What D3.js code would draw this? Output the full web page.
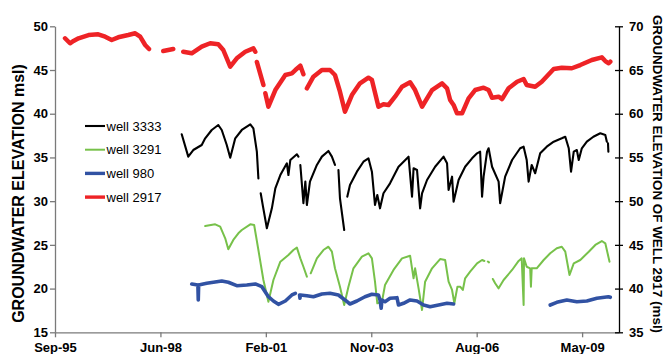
<!DOCTYPE html>
<html><head><meta charset="utf-8">
<script src="https://cdn.jsdelivr.net/npm/d3@7"></script>
<style>body{margin:0;background:#fff}svg{display:block}text{font-family:"Liberation Sans",Arial,sans-serif}</style>
</head><body><svg id="c" width="665" height="354"></svg>
<script>
const xTickLabels = ["Sep-95","Jun-98","Feb-01","Nov-03","Aug-06","May-09"];
const leftTicks = [15,20,25,30,35,40,45,50];
const rightTicks = [35,40,45,50,55,60,65,70];
const legendLabels = ["well 3333","well 3291","well 980","well 2917"];

// [decimal year, elevation msl]; null = gap in record
const well3333 = [
[1998.97,37.65],[1999.14,35.09],[1999.27,35.85],[1999.49,36.42],[1999.58,37.19],[1999.75,38.14],[1999.92,38.71],[2000.01,38.14],[2000.14,36.42],[2000.23,34.97],[2000.36,37.19],[2000.53,38.14],[2000.75,38.79],[2000.83,38.33],[2000.92,35.66],[2000.96,32.61],null,
[2001.02,30.90],[2001.08,29.37],[2001.18,26.90],[2001.31,29.18],[2001.40,31.47],[2001.53,32.99],[2001.70,34.33],[2001.74,32.99],[2001.79,34.71],[2001.96,35.36],[2002.00,35.09],null,
[2002.05,34.14],[2002.13,29.76],[2002.18,32.23],[2002.22,29.56],[2002.30,32.23],[2002.48,34.14],[2002.61,35.09],[2002.78,35.74],[2002.87,35.09],[2002.95,34.14],null,
[2003.04,33.56],[2003.08,30.33],[2003.19,26.70],null,
[2003.27,30.51],[2003.34,31.85],[2003.52,33.37],[2003.69,34.51],[2003.82,34.90],[2003.91,33.37],[2003.99,29.56],[2004.05,30.70],[2004.12,29.18],[2004.21,30.90],[2004.38,32.04],[2004.60,33.94],[2004.86,35.09],[2004.95,30.51],[2004.99,33.76],[2005.08,33.56],[2005.16,29.18],[2005.21,30.90],[2005.34,32.42],[2005.55,33.94],[2005.77,35.09],[2005.86,34.33],[2005.90,31.28],[2005.99,32.80],[2006.03,29.94],[2006.16,32.42],[2006.33,33.94],[2006.51,34.90],[2006.64,35.47],[2006.72,35.66],[2006.77,30.51],[2006.81,32.80],[2006.90,35.66],[2006.94,36.05],[2007.03,33.94],[2007.20,32.23],[2007.24,29.76],[2007.37,32.80],[2007.55,34.71],[2007.76,36.05],[2007.85,36.23],[2007.93,34.71],[2007.98,32.23],[2008.06,34.14],[2008.15,33.19],[2008.28,35.47],[2008.45,36.23],[2008.63,36.80],[2008.84,37.19],[2008.93,37.37],[2009.02,36.05],[2009.08,33.37],[2009.15,35.66],[2009.23,35.85],[2009.28,34.71],[2009.36,36.05],[2009.49,36.80],[2009.66,37.37],[2009.84,37.76],[2009.97,37.57],[2010.01,36.80],null,
[2010.04,36.62],[2010.05,35.66]
];
const well3291 = [
[1999.58,27.16],[1999.84,27.35],[1999.97,27.08],[2000.10,25.75],[2000.18,24.49],[2000.31,25.56],[2000.44,26.32],[2000.53,26.70],[2000.75,27.35],[2000.85,27.27],[2000.96,24.41],[2001.09,20.98],[2001.22,18.50],[2001.35,20.98],[2001.53,23.08],[2001.74,23.84],[2001.87,24.41],[2001.96,24.68],[2002.05,23.46],[2002.13,22.50],[2002.22,21.36],null,
[2002.32,21.75],[2002.48,23.46],[2002.65,24.41],[2002.78,24.79],[2002.87,24.22],[2002.95,22.32],[2003.08,20.22],[2003.19,18.12],[2003.30,20.22],[2003.43,22.32],[2003.65,23.65],[2003.82,24.04],[2003.91,23.46],[2003.99,20.79],[2004.05,18.32],[2004.17,18.50],[2004.25,20.41],[2004.47,22.13],[2004.69,23.46],[2004.90,23.76],[2004.95,22.32],[2004.99,21.18],[2005.03,22.32],[2005.12,20.03],[2005.21,17.55],[2005.29,20.79],[2005.47,22.32],[2005.68,23.38],[2005.81,23.27],[2005.90,20.79],[2005.99,19.84],[2006.05,18.32],[2006.13,20.22],[2006.20,20.22],[2006.27,19.84],[2006.33,21.18],[2006.46,21.93],[2006.64,22.89],[2006.77,23.27],[2006.83,23.16],null,
[2006.92,23.10],[2006.95,23.00],null,
[2007.05,21.10],[2007.11,20.61],[2007.20,20.03],[2007.33,20.98],[2007.55,22.13],[2007.72,23.16],[2007.80,23.46],[2007.85,18.12],[2007.86,23.46],[2007.93,22.50],[2008.02,22.32],[2008.04,20.22],[2008.06,22.32],[2008.19,22.32],[2008.37,23.27],[2008.54,24.04],[2008.71,24.61],[2008.84,24.79],[2008.93,24.22],[2009.04,21.55],[2009.15,22.89],[2009.32,23.27],[2009.54,24.22],[2009.71,24.99],[2009.88,25.44],[2009.97,25.18],[2010.05,23.65],[2010.08,23.08]
];
const well980 = [
[1999.23,20.53],[1999.39,20.41],[1999.40,18.70],[1999.41,20.41],[1999.62,20.61],[2000.01,20.87],[2000.18,20.72],[2000.40,20.33],[2000.66,20.41],[2000.88,20.53],[2001.05,20.22],[2001.22,19.07],[2001.35,18.58],[2001.48,18.20],[2001.66,18.58],[2001.83,19.27],[2001.92,19.46],null,
[2002.03,19.27],[2002.04,18.90],[2002.05,19.27],[2002.22,19.19],[2002.39,19.07],[2002.61,19.38],[2002.82,19.46],[2003.04,19.27],[2003.21,18.70],[2003.34,18.24],[2003.52,18.58],[2003.73,19.07],[2003.91,19.35],[2004.08,19.27],[2004.12,18.70],[2004.15,17.75],[2004.17,18.70],[2004.25,18.50],[2004.38,18.89],[2004.56,18.96],[2004.60,18.12],[2004.73,18.32],[2004.90,18.70],[2005.08,18.58],[2005.25,18.12],[2005.42,17.93],[2005.64,18.12],[2005.86,18.32],[2006.03,18.24],null,
[2008.54,18.12],[2008.71,18.43],[2008.97,18.70],[2009.23,18.50],[2009.49,18.58],[2009.75,18.89],[2010.05,19.07],[2010.10,19.00]
];
// well 2917 is read on the right-hand axis
const well2917 = [
[1995.94,68.63],[1996.07,68.06],[1996.16,68.32],[1996.29,68.63],[1996.55,69.00],[1996.80,69.08],[1996.98,68.81],[1997.15,68.43],[1997.32,68.74],[1997.58,69.00],[1997.76,69.20],[1997.89,68.81],[1998.02,67.86],[1998.12,67.40],null,
[1998.49,67.17],[1998.75,67.40],null,
[1999.01,67.09],[1999.23,66.91],[1999.49,67.67],[1999.71,68.06],[1999.92,67.94],[2000.05,67.29],[2000.23,65.38],[2000.40,66.34],[2000.62,67.09],[2000.83,67.48],[2000.88,67.09],null,
[2000.92,65.92],[2001.09,63.29],null,
[2001.14,62.34],[2001.22,60.80],[2001.40,62.71],[2001.66,64.43],[2001.83,64.62],[2001.92,65.00],[2002.05,65.49],[2002.13,64.51],null,
[2002.22,62.91],[2002.39,64.24],[2002.61,65.00],[2002.82,65.00],[2002.95,64.43],[2003.08,62.52],[2003.21,60.23],[2003.39,62.14],[2003.60,63.48],[2003.82,64.12],[2003.91,63.86],[2004.08,60.80],[2004.21,61.08],[2004.34,61.00],[2004.51,61.95],[2004.69,63.09],[2004.90,63.59],[2005.03,62.71],[2005.21,60.80],[2005.47,62.71],[2005.73,63.48],[2005.86,62.91],[2005.94,61.57],[2006.03,61.00],[2006.12,60.05],[2006.25,60.05],[2006.42,61.76],[2006.59,62.71],[2006.81,62.98],[2006.94,62.71],[2007.03,61.83],[2007.20,61.95],[2007.29,61.68],[2007.46,62.91],[2007.68,63.66],[2007.85,63.97],[2007.93,63.29],[2008.15,63.09],[2008.32,63.66],[2008.63,65.12],[2008.84,65.26],[2009.10,65.20],[2009.32,65.57],[2009.62,66.15],[2009.88,66.45],[2009.97,66.03],[2010.06,65.77],[2010.10,65.95]
];

const svg = d3.select("#c");
const DAY = 864e5;
const startDate = new Date(Date.UTC(1995, 8, 6));
const endDate = new Date(+startDate + 5350 * DAY);
const L = 55, R = 619, T = 26.3, B = 332.3;
const x = d3.scaleUtc().domain([startDate, endDate]).range([L, R]);
const yL = d3.scaleLinear().domain([15, 50]).range([B, T]);
const yR = d3.scaleLinear().domain([35, 70]).range([B, T]);

function toDate(yr) {
  const y = Math.floor(yr);
  const s = Date.UTC(y, 0, 1), e = Date.UTC(y + 1, 0, 1);
  return new Date(s + (yr - y) * (e - s));
}

const series = [
  {data: well3333, y: yL, color: "#000000", w: 2.1},
  {data: well3291, y: yL, color: "#77C14A", w: 2},
  {data: well980,  y: yL, color: "#3152A3", w: 3.6},
  {data: well2917, y: yR, color: "#EE2326", w: 4.5}
];

series.forEach(s => {
  const line = d3.line()
    .defined(d => d != null)
    .x(d => x(toDate(d[0])))
    .y(d => s.y(d[1]));
  svg.append("path").attr("d", line(s.data))
    .attr("fill", "none").attr("stroke", s.color).attr("stroke-width", s.w)
    .attr("stroke-linejoin", "round").attr("stroke-linecap", "round");
});

// axes
const xTicks = d3.range(xTickLabels.length).map(k => new Date(+startDate + k * 1000 * DAY));
const gx = svg.append("g").attr("transform", `translate(0,${B})`)
  .call(d3.axisBottom(x).tickValues(xTicks).tickFormat((d, i) => xTickLabels[i]).tickSize(5).tickSizeOuter(0).tickPadding(5));
const gl = svg.append("g").attr("transform", `translate(${L},0)`)
  .call(d3.axisLeft(yL).tickValues(leftTicks).tickSize(5).tickSizeOuter(0).tickPadding(2));
const gr = svg.append("g").attr("transform", `translate(${R},0)`)
  .call(d3.axisRight(yR).tickValues(rightTicks).tickSize(4).tickSizeOuter(0).tickPadding(6));
gr.selectAll(".tick line").attr("x1", -4);

[gx, gl].forEach(g => { g.select(".domain").attr("stroke", "#7a7a7a").attr("stroke-width", 1.3); g.selectAll(".tick line").attr("stroke", "#7a7a7a").attr("stroke-width", 1.3); });
gr.select(".domain").attr("stroke", "#000").attr("stroke-width", 1.3);
gr.selectAll(".tick line").attr("stroke", "#000").attr("stroke-width", 1.3);
[gx, gl, gr].forEach(g => g.selectAll("text").attr("font-family", "Liberation Sans, Arial, sans-serif").attr("font-size", 13).attr("font-weight", "bold").attr("fill", "#000"));

// axis titles
svg.append("text").attr("transform", `translate(24,193.5) rotate(-90)`)
  .attr("text-anchor", "middle").attr("font-size", 16).attr("font-weight", "bold")
  .text("GROUNDWATER ELEVATION msl)");
svg.append("text").attr("transform", `translate(653,174) rotate(90)`)
  .attr("text-anchor", "middle").attr("font-size", 13.4).attr("font-weight", "bold")
  .text("GROUNDWATER ELEVATION OF WELL 2917 (msl)");

// legend
const lg = svg.append("g");
legendLabels.forEach((lab, i) => {
  const yy = 126 + i * 23.7;
  lg.append("line").attr("x1", 85).attr("x2", 105).attr("y1", yy).attr("y2", yy)
    .attr("stroke", series[i].color).attr("stroke-width", Math.min(series[i].w, 3.4));
  lg.append("text").attr("x", 106.5).attr("y", yy).attr("dy", "0.35em")
    .attr("font-size", 13).text(lab);
});
</script></body></html>
